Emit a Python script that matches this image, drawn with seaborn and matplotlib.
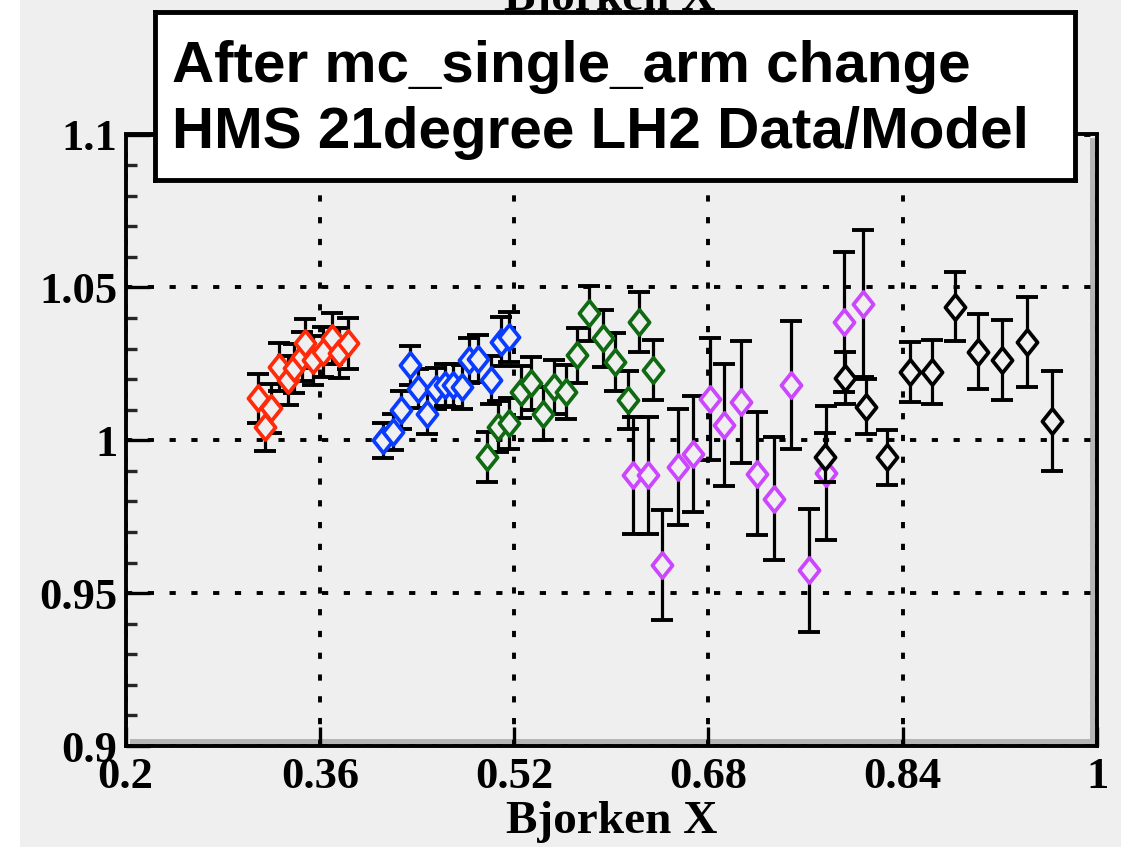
import matplotlib
matplotlib.use("Agg")
import numpy as np
import pandas as pd
import matplotlib.pyplot as plt
import seaborn as sns
from matplotlib.path import Path
from matplotlib.patches import Rectangle
from matplotlib.ticker import FixedLocator, FixedFormatter, MultipleLocator

# ---------------- data ----------------
red_x = [0.309, 0.315, 0.320, 0.326, 0.334, 0.339, 0.345, 0.348, 0.354, 0.363, 0.370, 0.376, 0.383]
red_y = [1.0137, 1.0044, 1.0104, 1.0240, 1.0196, 1.0235, 1.0273, 1.0317, 1.0262, 1.0289, 1.0333, 1.0284, 1.0317]
red_e = [0.0080, 0.0078, 0.0080, 0.0078, 0.0080, 0.0079, 0.0080, 0.0081, 0.0080, 0.0081, 0.0082, 0.0082, 0.0083]

blue_x = [0.412, 0.420, 0.427, 0.434, 0.441, 0.448, 0.456, 0.463, 0.470, 0.477, 0.483, 0.490, 0.501, 0.509, 0.516]
blue_y = [1.0000, 1.0027, 1.0098, 1.0245, 1.0169, 1.0087, 1.0169, 1.0180, 1.0180, 1.0175, 1.0262, 1.0267, 1.0196, 1.0322, 1.0338]
blue_e = [0.0058, 0.0060, 0.0062, 0.0064, 0.0065, 0.0068, 0.0068, 0.0069, 0.0070, 0.0072, 0.0074, 0.0076, 0.0078, 0.0080, 0.0082]

green_x = [0.498, 0.507, 0.516, 0.526, 0.534, 0.544, 0.553, 0.563, 0.572, 0.582, 0.593, 0.603, 0.614, 0.623, 0.634]
green_y = [0.9945, 1.0044, 1.0055, 1.0158, 1.0186, 1.0087, 1.0175, 1.0158, 1.0278, 1.0415, 1.0333, 1.0256, 1.0131, 1.0387, 1.0229]
green_e = [0.0082, 0.0083, 0.0084, 0.0085, 0.0086, 0.0087, 0.0088, 0.0089, 0.0090, 0.0091, 0.0093, 0.0094, 0.0095, 0.0097, 0.0098]

mag_x = [0.618, 0.630, 0.642, 0.655, 0.667, 0.681, 0.693, 0.707, 0.720, 0.734, 0.748, 0.763, 0.777, 0.792, 0.807]
mag_y = [0.9885, 0.9885, 0.9591, 0.9913, 0.9956, 1.0136, 1.0049, 1.0125, 0.9891, 0.9809, 1.0180, 0.9574, 0.9893, 1.0387, 1.0447]
mag_e = [0.019, 0.019, 0.018, 0.019, 0.019, 0.020, 0.020, 0.020, 0.020, 0.020, 0.021, 0.020, 0.022, 0.023, 0.024]

blk_x = [0.776, 0.7925, 0.8095, 0.827, 0.846, 0.864, 0.883, 0.902, 0.922, 0.942, 0.963]
blk_y = [0.9945, 1.0202, 1.0109, 0.9945, 1.0224, 1.0224, 1.0436, 1.0289, 1.0262, 1.0322, 1.0063]
blk_e = [0.0080, 0.0085, 0.0090, 0.0090, 0.0098, 0.0104, 0.0113, 0.0123, 0.0130, 0.0148, 0.0165]

x_ticks = [0.2, 0.36, 0.52, 0.68, 0.84, 1.0]
x_ticklabels = ["0.2", "0.36", "0.52", "0.68", "0.84", "1"]
y_ticks = [0.9, 0.95, 1.0, 1.05, 1.1]
y_ticklabels = ["0.9", "0.95", "1", "1.05", "1.1"]

title_lines = ["After mc_single_arm change", "HMS 21degree LH2 Data/Model"]
axis_title = "Bjorken X"

series = [
    ("red", red_x, red_y, red_e, "#ff2a0a"),
    ("blue", blue_x, blue_y, blue_e, "#0a3cff"),
    ("green", green_x, green_y, green_e, "#0f6a12"),
    ("magenta", mag_x, mag_y, mag_e, "#cc45ff"),
    ("black", blk_x, blk_y, blk_e, "#000000"),
]

# ---------------- style ----------------
sns.set_theme(style="white")
BG = "#efefef"
plt.rcParams["font.family"] = ["Liberation Serif", "DejaVu Serif"]

W, H = 1121, 847
fig = plt.figure(figsize=(W / 100, H / 100), dpi=100, facecolor=BG)
fig.patches.append(Rectangle((0, 0), 20 / W, 1, transform=fig.transFigure,
                             facecolor="white", edgecolor="none", zorder=-5))

L, R, T, B = 125.5, 1097.0, 134.5, 746.0
ax = fig.add_axes([L / W, 1 - B / H, (R - L) / W, (B - T) / H])
ax.set_facecolor(BG)

diamond = Path([(0, 1), (0.8, 0), (0, -1), (-0.8, 0), (0, 1)],
               [Path.MOVETO, Path.LINETO, Path.LINETO, Path.LINETO, Path.CLOSEPOLY])

z = 3
for name, xs, ys, es, col in series:
    df = pd.DataFrame({"x": xs, "y": ys, "err": es})
    ax.errorbar(df["x"], df["y"], yerr=df["err"], fmt="none", ecolor="black",
                elinewidth=2.3, capsize=8, capthick=2.8, zorder=z)
    sns.scatterplot(data=df, x="x", y="y", ax=ax, marker=diamond, s=330,
                    facecolor=BG, edgecolor=col, linewidth=2.7, zorder=z + 1,
                    legend=False)
    z += 2

ax.set_xlim(0.2, 1.0)
ax.set_ylim(0.9, 1.1)

ax.xaxis.set_major_locator(FixedLocator(x_ticks))
ax.xaxis.set_major_formatter(FixedFormatter(x_ticklabels))
ax.yaxis.set_major_locator(FixedLocator(y_ticks))
ax.yaxis.set_major_formatter(FixedFormatter(y_ticklabels))
ax.yaxis.set_minor_locator(MultipleLocator(0.01))

ax.grid(True, which="major", color="black", linestyle=(0, (1.6, 4.0)), linewidth=2.8)
ax.set_axisbelow(True)

ax.tick_params(axis="both", which="major", direction="in", width=2.4, length=15,
               labelsize=32, colors="black", left=True, bottom=True)
ax.tick_params(axis="y", which="major", length=17, pad=6)
ax.tick_params(axis="x", which="major", length=14, pad=8)
ax.tick_params(axis="y", which="minor", direction="in", width=2.4, length=8, left=True)
for lab in ax.get_xticklabels() + ax.get_yticklabels():
    lab.set_fontweight("bold")

for sp in ax.spines.values():
    sp.set_visible(True)
    sp.set_color("black")
    sp.set_linewidth(2.8)

# frame bevel shadow
ax.add_patch(Rectangle((1 - 7 / (R - L), 0), 7 / (R - L), 1 - 4 / (B - T),
                       transform=ax.transAxes, facecolor="#b5b5b5", edgecolor="none", zorder=0.5))
ax.add_patch(Rectangle((4 / (R - L), 0), 1 - 4 / (R - L), 7 / (B - T),
                       transform=ax.transAxes, facecolor="#b5b5b5", edgecolor="none", zorder=0.5))

ax.set_xlabel(axis_title, fontsize=34, fontweight="bold", color="black")
ax.xaxis.set_label_coords(0.5, -(822 - B) / (B - T))
ax.xaxis.label.set_va("center")
ax.set_ylabel("")

# top title partially hidden by the text box
fig.text(610 / W, 1 - 10 / H, axis_title, ha="center", va="baseline",
         fontsize=34, fontweight="bold", color="black", zorder=5)

# text box
bx0, by0, bx1, by1 = 155, 12, 1075, 180
bax = fig.add_axes([bx0 / W, 1 - by1 / H, (bx1 - bx0) / W, (by1 - by0) / H], zorder=10)
bax.set_facecolor("white")
bax.set_xticks([])
bax.set_yticks([])
for sp in bax.spines.values():
    sp.set_visible(True)
    sp.set_color("black")
    sp.set_linewidth(3.5)
bax.text((172 - bx0) / (bx1 - bx0), (by1 - 82) / (by1 - by0), title_lines[0],
         transform=bax.transAxes, ha="left", va="baseline", fontsize=42,
         fontweight="bold", family=["Liberation Sans", "DejaVu Sans"], color="black")
bax.text((172 - bx0) / (bx1 - bx0), (by1 - 148) / (by1 - by0), title_lines[1],
         transform=bax.transAxes, ha="left", va="baseline", fontsize=42,
         fontweight="bold", family=["Liberation Sans", "DejaVu Sans"], color="black")

fig.savefig("out.png", dpi=100, facecolor=BG)
